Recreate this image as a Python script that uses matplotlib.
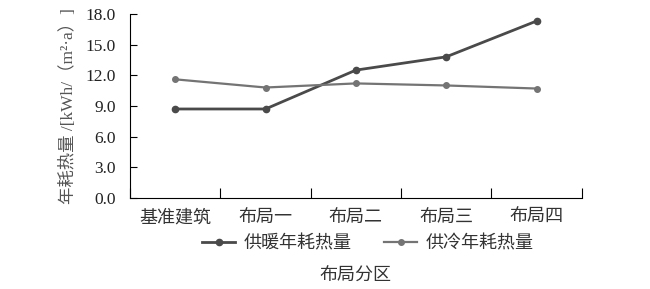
import numpy as np
import matplotlib.pyplot as plt

plt.rcParams['font.family'] = ['Liberation Serif', 'Noto Sans CJK SC']

categories = ['基准建筑', '布局一', '布局二', '布局三', '布局四']
heating = [8.7, 8.7, 12.5, 13.8, 17.3]
cooling = [11.6, 10.8, 11.2, 11.0, 10.7]
yticks = [0, 3, 6, 9, 12, 15, 18]

fig = plt.figure(figsize=(6.5, 2.89), dpi=100)
ax = fig.add_axes([0.2, 0.315, 0.695, 0.637])

x = np.arange(len(categories))
ax.plot(x, heating, '-o', color='#4a4a4a', lw=2.0, ms=4.5, label='供暖年耗热量')
ax.plot(x, cooling, '-o', color='#747474', lw=1.6, ms=4.0, label='供冷年耗热量')

ax.set_xlim(-0.5, len(categories) - 0.5)
ax.set_ylim(0, 18)
ax.set_yticks(yticks)
ax.set_yticklabels(['%.1f' % v for v in yticks], fontsize=12.5, color='#222222')

ax.set_xticks(np.arange(len(categories) + 1) - 0.5)
ax.set_xticklabels([])
ax.set_xticks(x, minor=True)
ax.set_xticklabels(categories, minor=True, fontsize=13, color='#333333')
ax.tick_params(axis='x', which='minor', length=0, pad=8)
ax.tick_params(axis='x', which='major', direction='in', length=7)
ax.tick_params(axis='y', direction='in', length=5, pad=10)

for s in ['top', 'right']:
    ax.spines[s].set_visible(False)

ax.set_ylabel('年耗热量 /[kWh/（m²·a）]', fontsize=12.5, color='#555555', labelpad=6)
ax.set_xlabel('布局分区', fontsize=13, color='#333333', labelpad=30)

ax.legend(loc='upper center', bbox_to_anchor=(0.527, -0.155), ncol=2, frameon=False,
          fontsize=13, handlelength=1.8, columnspacing=1.8, handletextpad=0.5,
          borderpad=0, labelcolor='#333333')

fig.savefig('out.png', dpi=100)
